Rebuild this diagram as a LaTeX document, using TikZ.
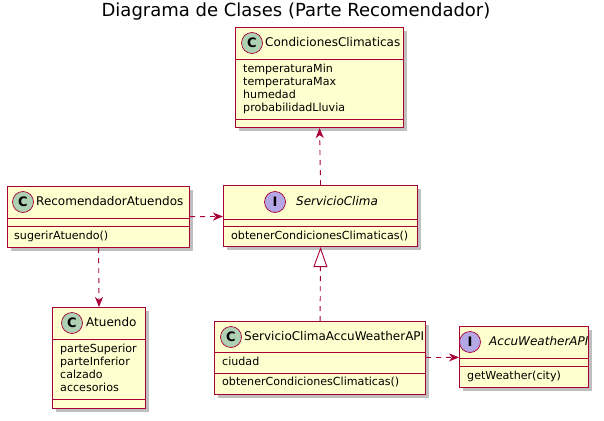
\documentclass[tikz,border=0pt]{standalone}
\usepackage{fontspec}
\setmainfont{DejaVu Sans}
\usepackage{tikz}
\usetikzlibrary{arrows.meta,shadows}

\definecolor{umlfill}{HTML}{FEFECE}
\definecolor{umlline}{HTML}{A80036}
\definecolor{circc}{HTML}{ADD1B2}
\definecolor{circi}{HTML}{B4A7E5}

\tikzset{
  cls/.style={draw=umlline, fill=umlfill, line width=1.1pt, inner sep=0pt, anchor=north west,
    drop shadow={shadow xshift=3pt, shadow yshift=-3pt, fill=black, opacity=0.25}},
  sep/.style={draw=umlline, line width=0.9pt},
  circ/.style={circle, draw=umlline, line width=0.7pt, minimum size=21pt, inner sep=0pt,
    font=\fontsize{13}{13}\selectfont\bfseries},
  clsname/.style={anchor=west, inner sep=0pt, text height=9pt, text depth=2.5pt,
    font=\fontsize{12}{14}\selectfont},
  member/.style={anchor=west, inner sep=0pt, text height=8pt, text depth=2.5pt,
    font=\fontsize{11.1}{13}\selectfont},
  dep/.style={draw=umlline, line width=0.9pt, dash pattern=on 5pt off 5pt,
    -{Stealth[length=10pt, width=8pt, inset=3pt]}},
  real/.style={draw=umlline, line width=0.9pt, dash pattern=on 5pt off 5pt,
    -{Triangle[open, length=20pt, width=14pt, fill=white]}}
}

\begin{document}
\begin{tikzpicture}[x=1pt, y=-1pt]
\useasboundingbox (0,0) rectangle (604,420);

\node[font=\fontsize{18}{22}\selectfont] (title) at (296,12) {Diagrama de Clases (Parte Recomendador)};

% CondicionesClimaticas
\node[cls, minimum width=168pt, minimum height=100pt] (cond) at (235,27) {};
\draw[sep] (cond.west |- 0,59) -- (cond.east |- 0,59);
\draw[sep] (cond.west |- 0,119) -- (cond.east |- 0,119);
\node[circ, fill=circc] (condC) at (252,43) {C};
\node[clsname] (condN) at (265,43) {CondicionesClimaticas};
\node[member] (cond1) at (243,70) {temperaturaMin};
\node[member] (cond2) at (243,83) {temperaturaMax};
\node[member] (cond3) at (243,96) {humedad};
\node[member] (cond4) at (243,109) {probabilidadLluvia};

% RecomendadorAtuendos
\node[cls, minimum width=182pt, minimum height=61pt] (reco) at (7,186) {};
\draw[sep] (reco.west |- 0,218) -- (reco.east |- 0,218);
\draw[sep] (reco.west |- 0,226) -- (reco.east |- 0,226);
\node[circ, fill=circc] (recoC) at (23,202) {C};
\node[clsname] (recoN) at (36,202) {RecomendadorAtuendos};
\node[member] (reco1) at (14,237) {sugerirAtuendo()};

% ServicioClima
\node[cls, minimum width=194pt, minimum height=61pt] (sc) at (223,185) {};
\draw[sep] (sc.west |- 0,219) -- (sc.east |- 0,219);
\draw[sep] (sc.west |- 0,226) -- (sc.east |- 0,226);
\node[circ, fill=circi] (scI) at (275,202) {I};
\node[clsname, font=\fontsize{12}{14}\selectfont\itshape] (scN) at (296,202) {ServicioClima};
\node[member] (sc1) at (231,237) {obtenerCondicionesClimaticas()};

% Atuendo
\node[cls, minimum width=93pt, minimum height=101pt] (atu) at (52,307) {};
\draw[sep] (atu.west |- 0,339) -- (atu.east |- 0,339);
\draw[sep] (atu.west |- 0,399) -- (atu.east |- 0,399);
\node[circ, fill=circc] (atuC) at (72,323) {C};
\node[clsname] (atuN) at (86,323) {Atuendo};
\node[member] (atu1) at (60,350) {parteSuperior};
\node[member] (atu2) at (60,363) {parteInferior};
\node[member] (atu3) at (60,376) {calzado};
\node[member] (atu4) at (60,389) {accesorios};

% ServicioClimaAccuWeatherAPI
\node[cls, minimum width=211pt, minimum height=73pt] (scaw) at (214,321) {};
\draw[sep] (scaw.west |- 0,352) -- (scaw.east |- 0,352);
\draw[sep] (scaw.west |- 0,373) -- (scaw.east |- 0,373);
\node[circ, fill=circc] (scawC) at (231,337) {C};
\node[clsname] (scawN) at (244,337) {ServicioClimaAccuWeatherAPI};
\node[member] (scaw1) at (222,363) {ciudad};
\node[member] (scaw2) at (222,383) {obtenerCondicionesClimaticas()};

% AccuWeatherAPI
\node[cls, minimum width=129pt, minimum height=61pt] (aw) at (459,326) {};
\draw[sep] (aw.west |- 0,358) -- (aw.east |- 0,358);
\draw[sep] (aw.west |- 0,366) -- (aw.east |- 0,366);
\node[circ, fill=circi] (awI) at (470,342) {I};
\node[clsname, font=\fontsize{12}{14}\selectfont\itshape] (awN) at (489,342) {AccuWeatherAPI};
\node[member] (aw1) at (467,377) {getWeather(city)};

\draw[dep] (sc.north) -- (cond.south);
\draw[dep] (reco) -- (sc);
\draw[dep] (reco.south) -- (atu.north);
\draw[real] (scaw.north) -- (sc.south);
\draw[dep] (scaw) -- (aw);
\end{tikzpicture}
\end{document}
